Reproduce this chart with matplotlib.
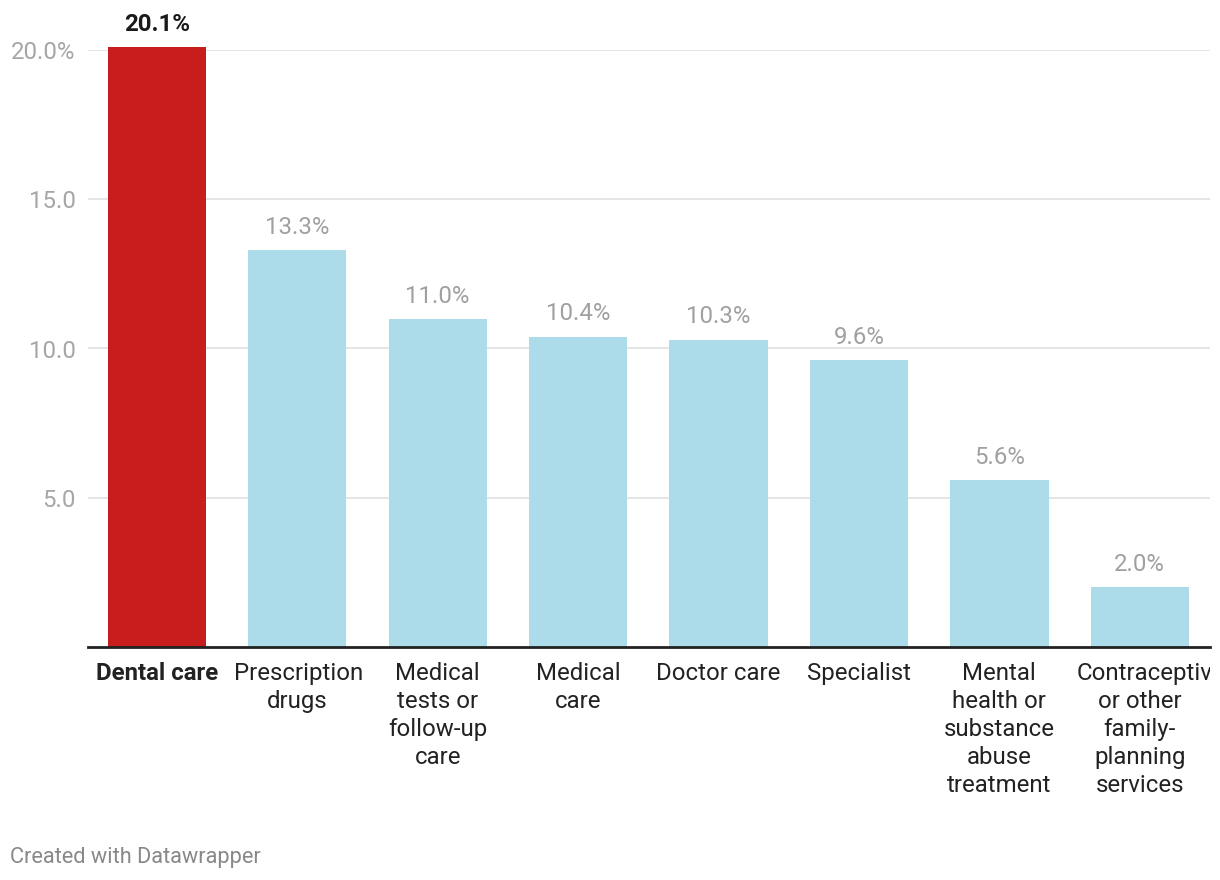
import matplotlib
matplotlib.use("Agg")
import matplotlib.pyplot as plt
from matplotlib.transforms import Bbox

plt.rcParams['font.family'] = ['Roboto', 'DejaVu Sans']

categories = ["Dental care", "Prescription\ndrugs", "Medical\ntests or\nfollow-up\ncare",
              "Medical\ncare", "Doctor care", "Specialist",
              "Mental\nhealth or\nsubstance\nabuse\ntreatment",
              "Contraceptive\nor other\nfamily-\nplanning\nservices"]
values = [20.1, 13.3, 11.0, 10.4, 10.3, 9.6, 5.6, 2.0]
highlight = 0
yticks = [5, 10, 15, 20]
ytick_labels = ["5.0", "10.0", "15.0", "20.0%"]

W, H = 1220, 880
fig = plt.figure(figsize=(W / 100, H / 100), dpi=100)
ax = fig.add_axes([88 / W, (H - 647) / H, (1210 - 88) / W, (647 - 50) / H])

x = range(len(values))
colors = ['#c71e1d' if i == highlight else '#acdcea' for i in x]
ax.bar(x, values, width=0.7, color=colors, zorder=2, clip_on=False)

ax.set_xlim(-0.49, 7.5)
ax.set_ylim(0, 20)
ax.set_yticks(yticks)
ax.set_yticklabels(ytick_labels, fontsize=17.3, color='#a6a6a6')
ax.tick_params(axis='y', length=0, pad=9)
ax.set_xticks([])
ax.grid(axis='y', color='#e0e0e0', linewidth=1.2, zorder=0)
for s in ['top', 'right', 'left']:
    ax.spines[s].set_visible(False)
ax.spines['bottom'].set_color('#222222')
ax.spines['bottom'].set_linewidth(2)
ax.spines['bottom'].set_zorder(3)

renderer = fig.canvas.get_renderer()
clip = Bbox.from_extents(0, 0, 1210, H)
box_half = 0.447   # half width of a label column, in bar units
px_per_unit = ax.bbox.width / (7.5 + 0.49)
line_step = 28 * 0.72  # 28 px between lines, in points

for i, (c, v) in enumerate(zip(categories, values)):
    hl = i == highlight
    ax.annotate(f"{v:.1f}%", (i, v), xytext=(0, 8), textcoords='offset points',
                ha='center', va='bottom', fontsize=17.3,
                color='#1a1a1a' if hl else '#a0a0a0',
                fontweight='bold' if hl else 'normal', annotation_clip=False)
    for j, line in enumerate(c.split("\n")):
        t = ax.annotate(line, (i, 0), xycoords=('data', 'axes fraction'),
                        xytext=(0, -11 - j * line_step), textcoords='offset points',
                        ha='center', va='top', fontsize=17.3, color='#222222',
                        fontweight='bold' if hl else 'normal',
                        annotation_clip=False)
        # lines wider than the column overflow to the right, like in the browser
        if t.get_window_extent(renderer).width > 2 * box_half * px_per_unit:
            t.xy = (i - box_half, 0)
            t.set_ha('left')
        t.set_clip_on(True)
        t.set_clip_box(clip)

fig.text(10 / W, 1 - 857 / H, "Created with Datawrapper", fontsize=15.7,
         color='#888888', ha='left', va='center')

fig.savefig("out.png", dpi=100)
